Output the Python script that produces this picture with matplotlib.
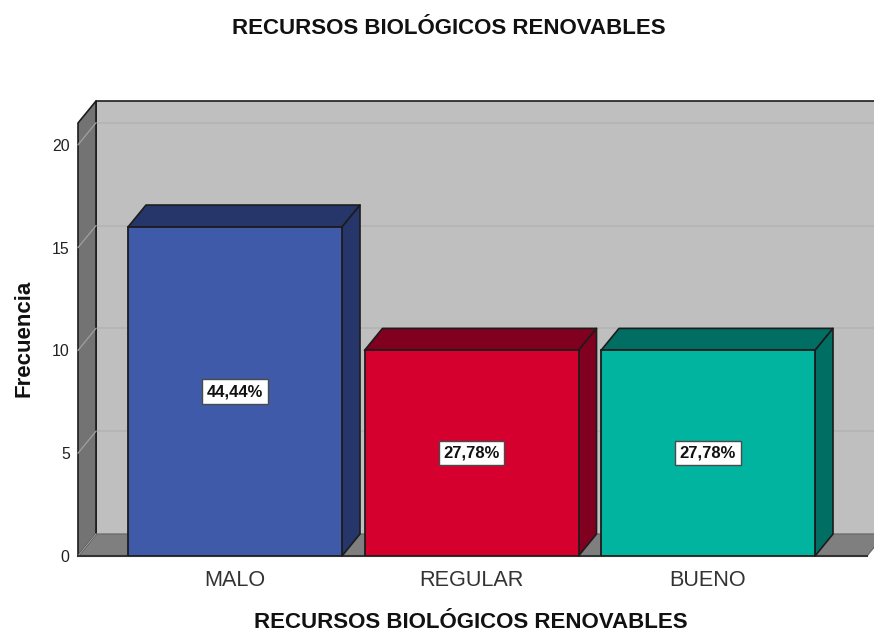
import matplotlib
matplotlib.use("Agg")
import matplotlib.pyplot as plt
from matplotlib.patches import Polygon

categories = ["MALO", "REGULAR", "BUENO"]
values = [16, 10, 10]
pct_labels = ["44,44%", "27,78%", "27,78%"]
y_ticks = [0, 5, 10, 15, 20]
front_colors = ["#3e5aa8", "#d6002f", "#00b4a0"]
depth_colors = ["#26366a", "#81001f", "#006e62"]
title = "RECURSOS BIOLÓGICOS RENOVABLES"

W, H = 874, 631
PX_X = 236.5
PX_Y = 20.56
X0_PX = 235
Y0_PX = 556
LEFT_PX, RIGHT_PX, TOP_PX = 78, 867, 123

fig = plt.figure(figsize=(W / 100, H / 100), dpi=100, facecolor="white")
ax = fig.add_axes([LEFT_PX / W, 1 - Y0_PX / H, (RIGHT_PX - LEFT_PX) / W, (Y0_PX - TOP_PX) / H])
ax.set_xlim((LEFT_PX - X0_PX) / PX_X, (RIGHT_PX - X0_PX) / PX_X)
ax.set_ylim(0, (Y0_PX - TOP_PX) / PX_Y)
ax.patch.set_visible(False)
for s in ax.spines.values():
    s.set_visible(False)

x0, x1 = ax.get_xlim()
y1 = ax.get_ylim()[1]
dx, dy = 18 / PX_X, 22 / PX_Y
edge = "#1c1c1c"


def poly(pts, fc, z, lw=1.2, ec=edge):
    ax.add_patch(Polygon(pts, closed=True, facecolor=fc, edgecolor=ec, linewidth=lw,
                         zorder=z, clip_on=False, joinstyle="round"))


# back wall
poly([(x0 + dx, dy), (x1 + dx, dy), (x1 + dx, y1 + dy), (x0 + dx, y1 + dy)], "#bfbfbf", 1)
for t in [0, 5, 10, 15, 20]:
    ax.plot([x0 + dx, x1 + dx], [t + dy, t + dy], color="#b5b5b5", lw=1.4, zorder=1.5, clip_on=False)
# floor and left wall
poly([(x0, 0), (x1, 0), (x1 + dx, dy), (x0 + dx, dy)], "#7f7f7f", 2, lw=0.8, ec="#666666")
poly([(x0, 0), (x0 + dx, dy), (x0 + dx, y1 + dy), (x0, y1)], "#737373", 3)
for t in [0, 5, 10, 15, 20]:
    ax.plot([x0, x0 + dx], [t, t + dy], color="#a0a0a0", lw=0.9, zorder=3.5, clip_on=False)
ax.plot([x0, x1], [0, 0], color="#333333", lw=1.5, zorder=4, clip_on=False)

# bars
bar_w = 214 / PX_X
xs = list(range(len(categories)))
bars = ax.bar(xs, values, width=bar_w, color=front_colors, edgecolor=edge, linewidth=1.3, zorder=6)
for i, (x, v) in enumerate(zip(xs, values)):
    l, r = x - bar_w / 2, x + bar_w / 2
    poly([(l, v), (r, v), (r + dx, v + dy), (l + dx, v + dy)], depth_colors[i], 5)
    poly([(r, 0), (r + dx, dy), (r + dx, v + dy), (r, v)], depth_colors[i], 5)
    ax.text(x, v / 2, pct_labels[i], ha="center", va="center", zorder=8, color="#111111",
            fontsize=12, fontweight="bold", family="Liberation Sans",
            bbox=dict(boxstyle="square,pad=0.28", fc="white", ec="#4a4a4a", lw=1.0))

ax.set_xticks(xs, categories)
ax.set_yticks(y_ticks)
ax.tick_params(axis="x", length=0, pad=10, labelsize=15.6, labelcolor="#333333")
ax.tick_params(axis="y", length=0, pad=6, labelsize=11.4, labelcolor="#222222")
for lb in ax.get_xticklabels() + ax.get_yticklabels():
    lb.set_family("Liberation Sans")

fig.text(449 / W, 1 - 28 / H, title, ha="center", va="center", fontsize=16,
         fontweight="bold", family="Liberation Sans", color="#111111")
fig.text(471 / W, 1 - 622 / H, title, ha="center", va="center", fontsize=16,
         fontweight="bold", family="Liberation Sans", color="#111111")
fig.text(24 / W, 1 - 338 / H, "Frecuencia", rotation=90, ha="center", va="center", fontsize=16,
         fontweight="bold", family="Liberation Sans", color="#111111")

fig.savefig("out.png", dpi=100, facecolor="white")
